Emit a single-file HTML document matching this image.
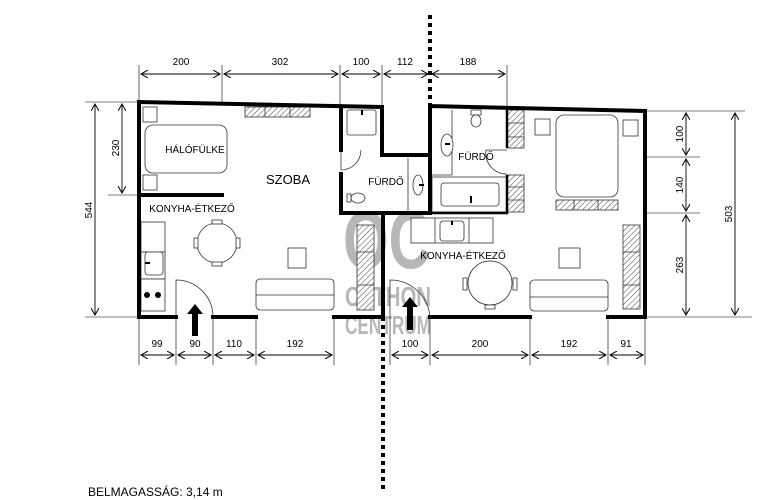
<!DOCTYPE html>
<html><head><meta charset="utf-8"><style>
html,body{margin:0;padding:0;background:#fff;width:776px;height:500px;overflow:hidden}
svg{display:block;font-family:"Liberation Sans",sans-serif}
</style></head><body>
<svg width="776" height="500" viewBox="0 0 776 500" xmlns="http://www.w3.org/2000/svg">
<defs>
<pattern id="h" width="4" height="4" patternUnits="userSpaceOnUse" patternTransform="rotate(45)"><rect width="4" height="4" fill="#fff"/><line x1="0" y1="0" x2="0" y2="4" stroke="#444" stroke-width="1"/></pattern>
<marker id="a" markerWidth="8" markerHeight="8" refX="7" refY="4" orient="auto-start-reverse" markerUnits="userSpaceOnUse"><path d="M0,0 L7,4 L0,8" fill="none" stroke="#000" stroke-width="1"/></marker>
</defs>

<!-- watermark -->
<g fill="#9a9a9a" opacity="0.7" font-weight="bold">
<text x="343" y="268" font-size="82" textLength="88" lengthAdjust="spacingAndGlyphs">OC</text>
<text x="345" y="306" font-size="28" textLength="86" lengthAdjust="spacingAndGlyphs">OTTHON</text>
<text x="345" y="334" font-size="26" textLength="86" lengthAdjust="spacingAndGlyphs">CENTRUM</text>
</g>

<!-- dotted lines -->
<line x1="430" y1="15" x2="430" y2="106" stroke="#000" stroke-width="4" stroke-dasharray="4,4"/>
<line x1="383" y1="317" x2="383" y2="492" stroke="#000" stroke-width="4" stroke-dasharray="4,4"/>

<!-- extension lines -->
<g stroke="#000" stroke-width="0.6" fill="none">
<line x1="139" y1="65" x2="139" y2="102"/><line x1="222" y1="65" x2="222" y2="104"/><line x1="340" y1="65" x2="340" y2="107"/><line x1="382" y1="65" x2="382" y2="107"/><line x1="507" y1="65" x2="507" y2="108"/>
<line x1="139" y1="317" x2="139" y2="365"/><line x1="176" y1="317" x2="176" y2="365"/><line x1="213" y1="317" x2="213" y2="365"/><line x1="256" y1="317" x2="256" y2="365"/><line x1="334" y1="317" x2="334" y2="365"/>
<line x1="390" y1="317" x2="390" y2="365"/><line x1="430" y1="317" x2="430" y2="365"/><line x1="530" y1="317" x2="530" y2="365"/><line x1="608" y1="317" x2="608" y2="365"/><line x1="645" y1="317" x2="645" y2="365"/>
<line x1="85" y1="102" x2="139" y2="102"/><line x1="85" y1="317" x2="139" y2="317"/><line x1="108" y1="195" x2="139" y2="195"/>
<line x1="645" y1="111" x2="745" y2="111"/><line x1="645" y1="157" x2="700" y2="157"/><line x1="645" y1="213" x2="700" y2="213"/><line x1="645" y1="317" x2="752" y2="317"/>
</g>
<!-- dimension arrows -->
<g stroke="#000" stroke-width="0.9" marker-start="url(#a)" marker-end="url(#a)">
<line x1="141" y1="74" x2="220" y2="74"/><line x1="224" y1="74" x2="338" y2="74"/><line x1="342" y1="74" x2="380" y2="74"/><line x1="384" y1="74" x2="428" y2="74"/><line x1="432" y1="74" x2="505" y2="74"/>
<line x1="141" y1="355" x2="174" y2="355"/><line x1="178" y1="355" x2="211" y2="355"/><line x1="215" y1="355" x2="254" y2="355"/><line x1="258" y1="355" x2="332" y2="355"/>
<line x1="392" y1="355" x2="428" y2="355"/><line x1="432" y1="355" x2="528" y2="355"/><line x1="532" y1="355" x2="606" y2="355"/><line x1="610" y1="355" x2="643" y2="355"/>
<line x1="95" y1="104" x2="95" y2="315"/><line x1="122" y1="104" x2="122" y2="193"/>
<line x1="686" y1="113" x2="686" y2="155"/><line x1="686" y1="159" x2="686" y2="211"/><line x1="686" y1="215" x2="686" y2="315"/><line x1="735" y1="113" x2="735" y2="315"/>
</g>
<g font-size="10" text-anchor="middle" fill="#000">
<text x="181" y="65">200</text><text x="280" y="65">302</text><text x="361" y="65">100</text><text x="405" y="65">112</text><text x="468" y="65">188</text>
<text x="157" y="347">99</text><text x="195" y="347">90</text><text x="234" y="347">110</text><text x="295" y="347">192</text>
<text x="410" y="347">100</text><text x="480" y="347">200</text><text x="569" y="347">192</text><text x="626" y="347">91</text>
<text transform="translate(92,210) rotate(-90)">544</text><text transform="translate(119,148) rotate(-90)">230</text>
<text transform="translate(683,134) rotate(-90)">100</text><text transform="translate(683,185) rotate(-90)">140</text><text transform="translate(683,265) rotate(-90)">263</text><text transform="translate(732,214) rotate(-90)">503</text>
</g>

<!-- furniture -->
<g stroke="#333" stroke-width="0.8" fill="#fff">
<rect x="143" y="107" width="14" height="15"/><rect x="143" y="175" width="14" height="15"/>
<rect x="145" y="125" width="82" height="48" rx="8"/>
<rect x="245" y="107" width="65" height="10" fill="url(#h)"/>
<line x1="265" y1="107" x2="265" y2="117"/><line x1="290" y1="107" x2="290" y2="117"/>
<rect x="141" y="222" width="24" height="30"/><rect x="141" y="252" width="24" height="27"/><rect x="141" y="279" width="24" height="32"/>
<rect x="145" y="252" width="18" height="23" rx="3"/>
<circle cx="217" cy="243" r="20"/><rect x="212" y="220" width="10" height="4"/><rect x="212" y="262" width="10" height="4"/><rect x="194" y="238" width="4" height="10"/><rect x="236" y="238" width="4" height="10"/>
<rect x="288" y="248" width="18" height="20"/>
<rect x="256" y="279" width="78" height="31" rx="4"/><line x1="256" y1="295" x2="334" y2="295"/>
<rect x="357" y="225" width="17" height="85" fill="url(#h)"/><line x1="357" y1="252" x2="374" y2="252"/><line x1="357" y1="285" x2="374" y2="285"/>
<rect x="347" y="110" width="29" height="25" rx="2"/>
<rect x="347" y="194" width="4" height="8"/><ellipse cx="358" cy="198" rx="7" ry="5"/>
<line x1="408" y1="158" x2="408" y2="213"/><ellipse cx="418" cy="185" rx="5" ry="10"/>
<line x1="432" y1="175" x2="452" y2="175"/><line x1="452" y1="110" x2="452" y2="175"/>
<ellipse cx="447" cy="145" rx="6" ry="11"/>
<rect x="471" y="110" width="10" height="5"/><ellipse cx="476" cy="121" rx="5" ry="6"/>
<rect x="432" y="177" width="75" height="35"/><rect x="441" y="183" width="58" height="23" rx="3"/>
<rect x="507" y="110" width="17" height="38" fill="url(#h)"/><line x1="507" y1="123" x2="524" y2="123"/><line x1="507" y1="137" x2="524" y2="137"/>
<rect x="507" y="175" width="17" height="37" fill="url(#h)"/><line x1="507" y1="187" x2="524" y2="187"/><line x1="507" y1="200" x2="524" y2="200"/>
<rect x="556" y="115" width="62" height="82" rx="8"/>
<rect x="535" y="119" width="15" height="16"/><rect x="623" y="120" width="15" height="16"/>
<rect x="556" y="200" width="62" height="10" fill="url(#h)"/><line x1="574" y1="200" x2="574" y2="210"/><line x1="598" y1="200" x2="598" y2="210"/>
<rect x="411" y="218" width="82" height="25"/><line x1="435" y1="218" x2="435" y2="243"/><line x1="469" y1="218" x2="469" y2="243"/><rect x="440" y="221" width="24" height="20" rx="3"/>
<circle cx="490" cy="283" r="22"/><rect x="463" y="278" width="4" height="12"/><rect x="513" y="278" width="4" height="12"/><rect x="485" y="305" width="10" height="4"/>
<rect x="559" y="248" width="21" height="20"/>
<rect x="530" y="280" width="78" height="31" rx="4"/><line x1="530" y1="297" x2="608" y2="297"/>
<rect x="623" y="225" width="17" height="84" fill="url(#h)"/><line x1="623" y1="252" x2="640" y2="252"/><line x1="623" y1="285" x2="640" y2="285"/>
</g>
<g fill="#000">
<rect x="145" y="262" width="5" height="2"/><circle cx="147" cy="295" r="3"/><circle cx="158" cy="295" r="3"/>
<rect x="361" y="110" width="2" height="5"/><rect x="419" y="184" width="5" height="2"/>
<rect x="445" y="143" width="5" height="2"/><rect x="470" y="196" width="2" height="7"/><rect x="451" y="221" width="2" height="4"/>
</g>
<g fill="none" stroke="#333" stroke-width="0.8">
<path d="M176 317 V280 A37 37 0 0 1 213 317"/>
<path d="M341 150 V170 A20 20 0 0 0 361 150"/>
<path d="M507 150 H486 A21 21 0 0 0 507 174"/>
<path d="M390 317 V280 A40 40 0 0 1 430 317"/>
</g>
<path d="M195 304 L203 314 L198 314 L198 336 L192 336 L192 314 L187 314 Z" fill="#000"/>
<path d="M410 297 L418 307 L413 307 L413 330 L407 330 L407 307 L402 307 Z" fill="#000"/>

<g stroke="#000" stroke-width="4" fill="none" stroke-linecap="square">
<path d="M139 317 V102 L382 107 V155 H430"/>
<path d="M139 317 H176 M213 317 H256 M334 317 H383"/>
<path d="M341 107 V150 M341 174 V213 H430"/>
<path d="M383 213 V317"/>
<path d="M430 213 V106 L645 111 V317 H608 M530 317 H430"/>
<path d="M141 195 H222"/>
</g>
<path d="M507 108 V148 M507 175 V213 H430" stroke="#000" stroke-width="2.5" fill="none"/>

<g font-size="10" fill="#000" text-anchor="middle">
<text x="195" y="153">HÁLÓFÜLKE</text>
<text x="288" y="184" font-size="13">SZOBA</text>
<text x="192" y="212">KONYHA-ÉTKEZŐ</text>
<text x="386" y="185">FÜRDŐ</text>
<text x="476" y="160">FÜRDŐ</text>
<text x="463" y="259">KONYHA-ÉTKEZŐ</text>
</g>
<text x="88" y="496" font-size="12" fill="#000">BELMAGASSÁG: 3,14 m</text>
</svg>
</body></html>
